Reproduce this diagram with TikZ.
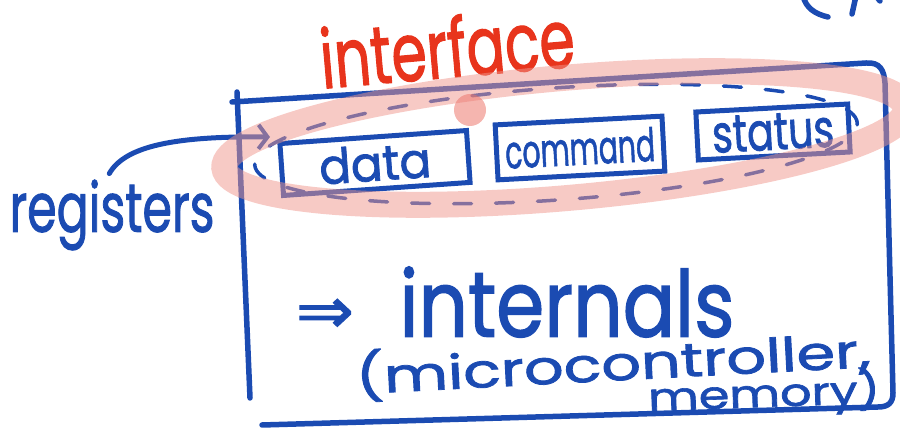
\documentclass[tikz,border=0pt]{standalone}
\usepackage{fontspec}
\setmainfont{Poppins}
\newfontfamily\inkfont{Poppins}[FakeBold=1.6]
\newfontfamily\symfont{DejaVu Sans}[FakeBold=1.5]
\usetikzlibrary{arrows.meta,calc}
\definecolor{pen}{RGB}{27,75,178}
\definecolor{redpen}{RGB}{232,52,28}
\definecolor{hilite}{RGB}{240,150,140}
\definecolor{blob}{RGB}{236,120,110}
\newcommand{\fitw}[2]{\resizebox{#1pt}{!}{#2}}
\newcommand{\fitwh}[3]{\resizebox{#1pt}{#2pt}{#3}}
\begin{document}
\begin{tikzpicture}[x=1pt,y=1pt,
  inkline/.style={draw=pen,line width=5.5pt,line cap=round,line join=round},
  regbox/.style={draw=pen,line width=5pt,line cap=round,minimum height=#1,inner sep=0pt},
  inktext/.style={text=pen,inner sep=0pt,font=\inkfont},
]
\useasboundingbox (0,0) rectangle (900,428);
% big box
\draw[inkline] (237,336) -- (250,30);
\draw[inkline] (232,326) -- (866,365) .. controls (880,366) and (884,358) .. (885,345)
  -- (893,35) .. controls (893,25) and (888,21) .. (878,21) -- (262,3);
% registers
\node[regbox=52pt,minimum width=187pt,rotate=4] (data) at (375,265) {};
\node[inktext,rotate=4] at (data.center) {\fitwh{112}{36}{data}};
\node[regbox=55pt,minimum width=167pt,rotate=3] (cmd) at (580,280) {};
\node[inktext,rotate=3] at (cmd.center) {\fitwh{150}{34}{command}};
\node[regbox=48pt,minimum width=152pt,rotate=3] (stat) at (773,296) {};
\node[inktext,rotate=3] at (stat.center) {\fitwh{122}{36}{status}};
% dashed interface outline
\draw[draw=pen,line width=3.5pt,line cap=round,dash pattern=on 18pt off 24pt,rotate around={4:(556,284)}]
  (556,284) ellipse [x radius=302, y radius=56];
% labels
\node[inktext] (reg) at (112,213) {\fitwh{205}{52}{registers}};
\coordinate (tip) at (270,291);
\draw[draw=pen,line width=5pt,line cap=round,-{Straight Barb[length=9pt,width=24pt,line width=4pt]}]
  (reg.north west) ++(100,6) .. controls (125,282) and (175,292) .. (tip);
\node[text=pen,inner sep=0pt,font=\symfont] (imp) at (325,112) {\fitwh{58}{34}{⇒}};
\node[inktext] (intl) at (567,126) {\fitwh{335}{70}{internals}};
\node[inktext,rotate=3] (micro) at (613,65) {\fitwh{515}{44}{(microcontroller,}};
\node[inktext,rotate=2] (mem) at (764,34) {\fitwh{232}{36}{memory)}};
\node[text=redpen,inner sep=0pt,rotate=5,font=\inkfont] (iface) at (447,381) {\fitwh{255}{62}{interface}};
% partial text at top right
\draw[inkline] (803,432) .. controls (806,420) and (815,414) .. (828,411);
\draw[inkline] (856,432) -- (852,414);
\draw[inkline] (876,432) -- (880,427);
% pink highlight
\draw[draw=hilite,line width=26pt,opacity=0.5,rotate around={5:(565,290)}]
  (565,290) ellipse [x radius=342, y radius=60];
\fill[blob,opacity=0.55] (470,318) circle [radius=16];
\end{tikzpicture}
\end{document}
